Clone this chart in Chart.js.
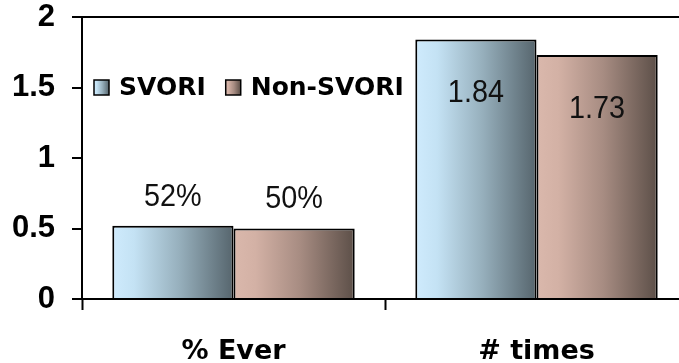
<!DOCTYPE html>
<html><head><meta charset="utf-8">
<script src="https://cdn.jsdelivr.net/npm/chart.js@4/dist/chart.umd.min.js"></script>
<style>html,body{margin:0;padding:0;background:#fff;overflow:hidden;width:679px;height:363px}</style>
</head><body>
<canvas id="c" width="688" height="363"></canvas>
<script>
// ---- data ----
const categories = ["% Ever", "# times"];
const seriesNames = ["SVORI", "Non-SVORI"];
const svoriValues = [0.52, 1.84];
const nonSvoriValues = [0.50, 1.73];
const svoriLabels = ["52%", "1.84"];
const nonSvoriLabels = ["50%", "1.73"];
const yTicks = [0, 0.5, 1, 1.5, 2];

// ---- styles ----
const gradientStops = [
  [[0, '#cfebfd'], [0.18, '#c4e2f4'], [0.55, '#97b0bd'], [1, '#56656d']],
  [[0, '#dab8ac'], [0.18, '#d3b1a5'], [0.55, '#a78c82'], [1, '#5c4f48']]
];
const labelFont = "32px 'Liberation Sans', Arial, sans-serif";
const labelSqueeze = 0.9;
const legendFont = "bold 25px 'DejaVu Sans', sans-serif";

function makeGradient(ctx, x0, x1, di) {
  const g = ctx.createLinearGradient(x0, 0, x1, 0);
  gradientStops[di].forEach(([o, c]) => g.addColorStop(o, c));
  return g;
}

const barGradients = {
  id: 'barGradients',
  beforeDatasetsDraw(chart) {
    const ctx = chart.ctx;
    chart.data.datasets.forEach((ds, di) => {
      chart.getDatasetMeta(di).data.forEach(el => {
        const p = el.getProps(['x', 'width'], true);
        el.options = Object.assign({}, el.options, {
          backgroundColor: makeGradient(ctx, p.x - p.width / 2, p.x + p.width / 2, di)
        });
      });
    });
  }
};

const dataLabels = {
  id: 'dataLabels',
  afterDatasetsDraw(chart) {
    const ctx = chart.ctx;
    chart.data.datasets.forEach((ds, di) => {
      chart.getDatasetMeta(di).data.forEach((el, i) => {
        const p = el.getProps(['x', 'y'], true);
        const inside = ds.data[i] >= 1;
        const y = inside ? p.y + 54 : p.y - 29;
        ctx.save();
        ctx.font = labelFont;
        ctx.fillStyle = '#111';
        ctx.textAlign = 'center';
        ctx.textBaseline = 'middle';
        ctx.translate(p.x, y);
        ctx.scale(labelSqueeze, 1);
        ctx.fillText(ds.valueLabels[i], 0, 0);
        ctx.restore();
      });
    });
  }
};

const innerLegend = {
  id: 'innerLegend',
  afterDraw(chart) {
    const ctx = chart.ctx;
    const area = chart.chartArea;
    let x = area.left + 12;
    const yc = chart.scales.y.getPixelForValue(1.5);
    ctx.save();
    ctx.font = legendFont;
    ctx.textBaseline = 'middle';
    ctx.textAlign = 'left';
    chart.data.datasets.forEach((ds, di) => {
      const bs = 15;
      ctx.fillStyle = makeGradient(ctx, x, x + bs, di);
      ctx.fillRect(x, yc - bs / 2, bs, bs);
      ctx.strokeStyle = '#000';
      ctx.lineWidth = 1.5;
      ctx.strokeRect(x, yc - bs / 2, bs, bs);
      x += bs + 10;
      ctx.fillStyle = '#000';
      ctx.fillText(ds.label, x, yc + 1);
      x += ctx.measureText(ds.label).width + 20;
    });
    ctx.restore();
  }
};

new Chart(document.getElementById('c'), {
  type: 'bar',
  data: {
    labels: categories,
    datasets: [
      { label: seriesNames[0], data: svoriValues, valueLabels: svoriLabels,
        borderColor: '#000', borderWidth: 2, backgroundColor: '#9fb8c4' },
      { label: seriesNames[1], data: nonSvoriValues, valueLabels: nonSvoriLabels,
        borderColor: '#000', borderWidth: 2, backgroundColor: '#a98f85' }
    ]
  },
  options: {
    responsive: false,
    animation: false,
    layout: { padding: { top: 17, right: 0, left: 0, bottom: 0 } },
    datasets: { bar: { categoryPercentage: 0.80, barPercentage: 1 } },
    plugins: { legend: { display: false }, tooltip: { enabled: false } },
    scales: {
      x: {
        grid: { offset: true, drawOnChartArea: false, tickLength: 11, tickColor: '#000', tickWidth: 2, color: '#000' },
        border: { display: true, color: '#000', width: 2 },
        ticks: { padding: 26, color: '#000', font: { family: "'DejaVu Sans', sans-serif", weight: 'bold', size: 27 } },
        afterFit: s => { s.height = 64; }
      },
      y: {
        min: 0, max: 2,
        afterBuildTicks: s => { s.ticks = yTicks.map(v => ({ value: v })); },
        ticks: { padding: 17, color: '#000', callback: v => String(v),
          font: { family: "'Liberation Sans', Arial, sans-serif", weight: 'bold', size: 31 } },
        grid: { drawOnChartArea: true, lineWidth: 2, tickLength: 10, tickColor: '#000', tickWidth: 2,
          color: c => (c.tick && c.tick.value === 2) ? '#000' : 'rgba(0,0,0,0)' },
        border: { display: true, color: '#000', width: 2 },
        afterFit: s => { s.width = 82; s.paddingTop = 0; s.paddingBottom = 0; }
      }
    }
  },
  plugins: [barGradients, dataLabels, innerLegend]
});
</script>
</body></html>
